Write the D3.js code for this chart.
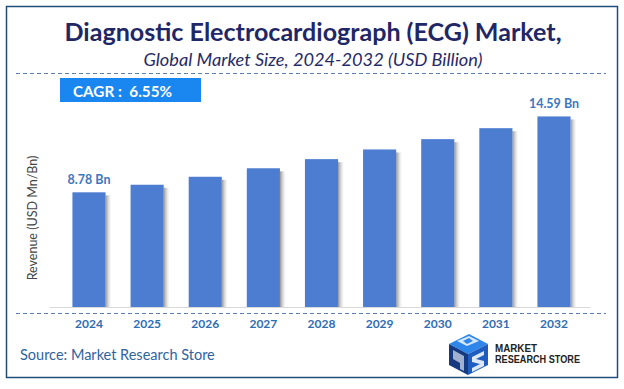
<!DOCTYPE html>
<html>
<head>
<meta charset="utf-8">
<script src="https://cdn.jsdelivr.net/npm/d3@7"></script>
<style>
  body { margin: 0; background: #fff; }
  svg { display: block; font-family: Lato, "Open Sans", sans-serif; }
</style>
</head>
<body>
<script>
// chart data
var years = ["2024", "2025", "2026", "2027", "2028", "2029", "2030", "2031", "2032"];
var revenue = [8.78, 9.36, 9.97, 10.62, 11.32, 12.06, 12.85, 13.69, 14.59];
var shownLabels = { "2024": "8.78 Bn", "2032": "14.59 Bn" };
var cagr = "CAGR :  6.55%";

var W = 624, H = 389;
var svg = d3.select("body").append("svg").attr("width", W).attr("height", H);

var defs = svg.append("defs");
var grad = defs.append("linearGradient").attr("id", "shadow").attr("x1", 0).attr("x2", 1);
grad.append("stop").attr("offset", "0%").attr("stop-color", "#7a7a7a").attr("stop-opacity", 0.8);
grad.append("stop").attr("offset", "100%").attr("stop-color", "#cfcfcf").attr("stop-opacity", 0);

// frame
svg.append("rect").attr("x", 6.5).attr("y", 6.5).attr("width", 611).attr("height", 371)
  .attr("fill", "#fff").attr("stroke", "#1f4e79").attr("stroke-width", 1.5);

// titles
svg.append("text").attr("x", 313).attr("y", 41).attr("text-anchor", "middle")
  .attr("font-size", 25).attr("font-weight", "bold").attr("fill", "#1f2766")
  .attr("textLength", 497).attr("lengthAdjust", "spacingAndGlyphs")
  .text("Diagnostic Electrocardiograph (ECG) Market,");
svg.append("text").attr("x", 313).attr("y", 66).attr("text-anchor", "middle")
  .attr("font-size", 18).attr("font-style", "italic").attr("fill", "#262b66")
  .attr("textLength", 339).attr("lengthAdjust", "spacingAndGlyphs")
  .text("Global Market Size, 2024-2032 (USD Billion)");

svg.append("line").attr("x1", 16).attr("x2", 606).attr("y1", 73.5).attr("y2", 73.5)
  .attr("stroke", "#5b7fb0").attr("stroke-dasharray", "4,3");

// CAGR box
svg.append("rect").attr("x", 60).attr("y", 78).attr("width", 141).attr("height", 24).attr("fill", "#1a87f0");
svg.append("text").attr("x", 73).attr("y", 96.5).attr("font-size", 16).attr("font-weight", "bold")
  .attr("fill", "#fff").attr("xml:space", "preserve")
  .attr("textLength", 99).attr("lengthAdjust", "spacingAndGlyphs").text(cagr);

// scales
var x = d3.scaleBand().domain(years).range([55, 588]).paddingInner(0.43).paddingOuter(0.3);
var y = d3.scaleLinear().domain([0, 16]).range([307, 98]);

var g = svg.append("g");
g.selectAll("rect.sh").data(years).enter().append("rect").attr("class", "sh")
  .attr("x", function(d) { return x(d) + x.bandwidth(); })
  .attr("y", function(d, i) { return y(revenue[i]) + 3; })
  .attr("width", 6)
  .attr("height", function(d, i) { return y(0) - y(revenue[i]) - 3; })
  .attr("fill", "url(#shadow)");
g.selectAll("rect.bar").data(years).enter().append("rect").attr("class", "bar")
  .attr("x", function(d) { return x(d); })
  .attr("y", function(d, i) { return y(revenue[i]); })
  .attr("width", x.bandwidth())
  .attr("height", function(d, i) { return y(0) - y(revenue[i]); })
  .attr("fill", "#4d7dd1");

// baseline
svg.append("line").attr("x1", 50).attr("x2", 590).attr("y1", y(0) + 0.5).attr("y2", y(0) + 0.5)
  .attr("stroke", "#d9d9d9").attr("stroke-width", 1.2);

// value labels
g.selectAll("text.val").data(years.filter(function(d) { return shownLabels[d]; })).enter()
  .append("text").attr("class", "val")
  .attr("x", function(d) { return x(d) + x.bandwidth() / 2; })
  .attr("y", function(d) { return y(revenue[years.indexOf(d)]) - 8; })
  .attr("text-anchor", "middle").attr("font-size", 12.5).attr("font-weight", "bold")
  .attr("fill", "#3a78c2").text(function(d) { return shownLabels[d]; });

// dashed separator + year axis
svg.append("line").attr("x1", 16).attr("x2", 606).attr("y1", 313.5).attr("y2", 313.5)
  .attr("stroke", "#5b7fb0").attr("stroke-dasharray", "4,3");
var xAxis = svg.append("g").attr("transform", "translate(0,314)")
  .call(d3.axisBottom(x).tickSize(0).tickPadding(5));
xAxis.select(".domain").remove();
xAxis.selectAll("text").attr("font-size", 12).attr("font-weight", "bold")
  .attr("fill", "#2f6db3").style("font-family", "Lato, 'Open Sans', sans-serif");

// y label
svg.append("text").attr("transform", "translate(37,218) rotate(-90)")
  .attr("text-anchor", "middle").attr("font-size", 12.5).attr("fill", "#444")
  .text("Revenue (USD Mn/Bn)");

// source
svg.append("text").attr("x", 20).attr("y", 360).attr("font-size", 14.5).attr("fill", "#2e64a0")
  .text("Source: Market Research Store");

// logo
var logo = svg.append("g").attr("transform", "translate(447,333)");
logo.append("path").attr("d", "M2,11 L22,1 L41,11 L21,21 Z").attr("fill", "#2f86ea");
logo.append("path").attr("d", "M2,11 L21,21 L21,42 L2,32 Z").attr("fill", "#163a80");
logo.append("path").attr("d", "M21,21 L41,11 L41,32 L21,42 Z").attr("fill", "#1d5cc0");
logo.append("path").attr("d", "M10,8 L22,3 L32,8 L20,13 Z M16,8 L22,5 L26,8 L20,11 Z").attr("fill", "#fff").attr("fill-rule", "evenodd").attr("opacity", 0.8);
logo.append("path").attr("d", "M25,24 L37,18 L37,22 L29,26 L37,28 L37,33 L25,39 L25,35 L33,31 L25,29 Z").attr("fill", "#fff").attr("opacity", 0.85);
logo.append("path").attr("d", "M6,17 L17,23 L17,38 L13,36 L13,30 L6,26 Z").attr("fill", "#fff").attr("opacity", 0.6);
svg.append("text").attr("x", 495).attr("y", 352).attr("font-size", 10).attr("font-weight", "bold")
  .attr("fill", "#222").attr("font-family", "'Liberation Sans Narrow', 'Liberation Sans', Arial, sans-serif")
  .attr("textLength", 42).attr("lengthAdjust", "spacingAndGlyphs").text("MARKET");
svg.append("text").attr("x", 495).attr("y", 363).attr("font-size", 10).attr("font-weight", "bold")
  .attr("fill", "#222").attr("font-family", "'Liberation Sans Narrow', 'Liberation Sans', Arial, sans-serif")
  .attr("textLength", 85).attr("lengthAdjust", "spacingAndGlyphs").text("RESEARCH STORE");
</script>
</body>
</html>
